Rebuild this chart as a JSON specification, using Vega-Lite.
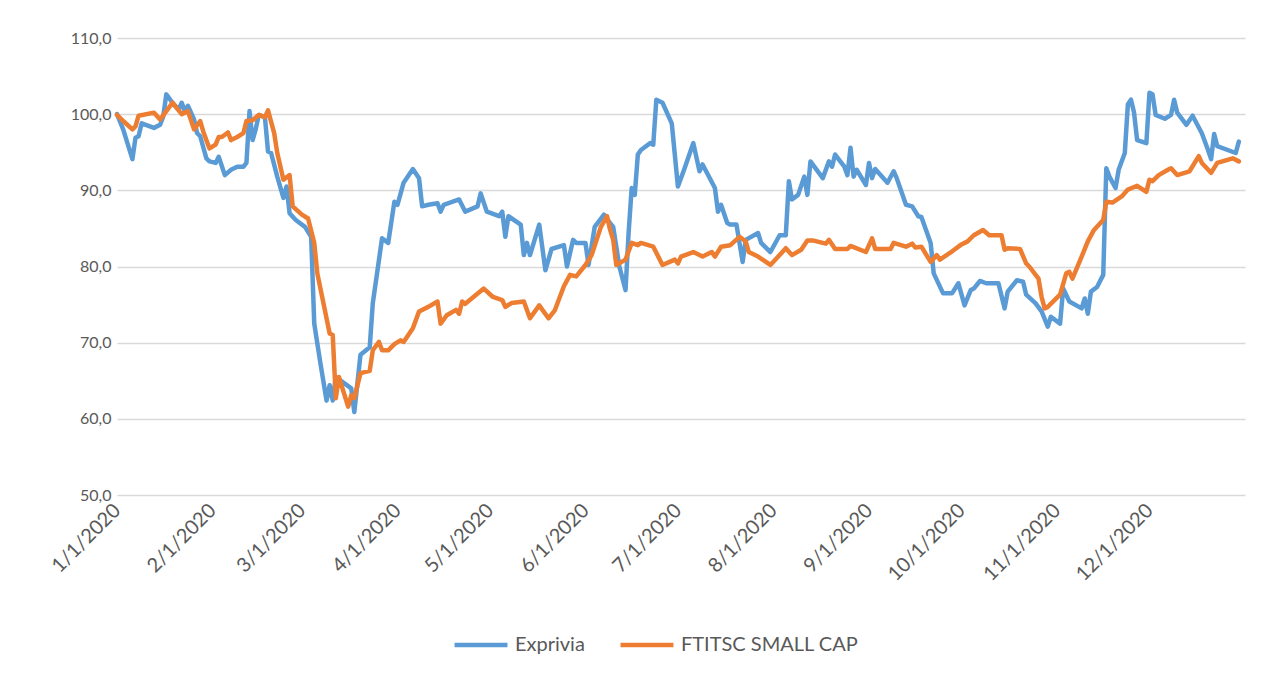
{
  "$schema": "https://vega.github.io/schema/vega-lite/v6.json",
  "width": 1128,
  "height": 457,
  "autosize": {"type": "none"},
  "padding": {"left": 117, "top": 38, "right": 36, "bottom": 181},
  "background": "white",
  "config": {"view": {"stroke": null}, "font": "Lato"},
  "datasets": {
    "exprivia": [
      {"date":"2020-01-01","value":100.0},{"date":"2020-01-03","value":98.0},{"date":"2020-01-06","value":94.1},{"date":"2020-01-07","value":96.9},{"date":"2020-01-08","value":97.1},{"date":"2020-01-09","value":98.8},{"date":"2020-01-13","value":98.2},{"date":"2020-01-15","value":98.6},{"date":"2020-01-16","value":99.7},{"date":"2020-01-17","value":102.6},{"date":"2020-01-19","value":101.5},{"date":"2020-01-21","value":100.6},{"date":"2020-01-22","value":101.5},{"date":"2020-01-23","value":100.4},{"date":"2020-01-24","value":101.1},{"date":"2020-01-26","value":99.3},{"date":"2020-01-27","value":97.5},{"date":"2020-01-28","value":97.1},{"date":"2020-01-30","value":94.2},{"date":"2020-01-31","value":93.8},
      {"date":"2020-02-02","value":93.6},{"date":"2020-02-03","value":94.4},{"date":"2020-02-05","value":92.0},{"date":"2020-02-07","value":92.7},{"date":"2020-02-09","value":93.1},{"date":"2020-02-11","value":93.1},{"date":"2020-02-12","value":93.6},{"date":"2020-02-13","value":100.4},{"date":"2020-02-14","value":96.6},{"date":"2020-02-15","value":98.0},{"date":"2020-02-16","value":99.9},{"date":"2020-02-18","value":99.6},{"date":"2020-02-19","value":95.1},{"date":"2020-02-20","value":94.9},{"date":"2020-02-22","value":91.8},{"date":"2020-02-24","value":89.0},{"date":"2020-02-25","value":90.5},{"date":"2020-02-26","value":87.0},{"date":"2020-02-28","value":86.1},
      {"date":"2020-03-02","value":85.2},{"date":"2020-03-04","value":83.9},{"date":"2020-03-05","value":72.5},{"date":"2020-03-07","value":67.3},{"date":"2020-03-09","value":62.4},{"date":"2020-03-10","value":64.4},{"date":"2020-03-11","value":62.4},{"date":"2020-03-12","value":65.5},{"date":"2020-03-17","value":64.0},{"date":"2020-03-18","value":60.9},{"date":"2020-03-20","value":68.4},{"date":"2020-03-23","value":69.4},{"date":"2020-03-24","value":75.2},{"date":"2020-03-27","value":83.7},{"date":"2020-03-29","value":83.1},{"date":"2020-03-31","value":88.5},
      {"date":"2020-04-01","value":88.1},{"date":"2020-04-03","value":91.0},{"date":"2020-04-06","value":92.8},{"date":"2020-04-08","value":91.6},{"date":"2020-04-09","value":87.9},{"date":"2020-04-11","value":88.1},{"date":"2020-04-14","value":88.3},{"date":"2020-04-15","value":87.2},{"date":"2020-04-16","value":88.1},{"date":"2020-04-21","value":88.8},{"date":"2020-04-23","value":87.2},{"date":"2020-04-27","value":87.9},{"date":"2020-04-28","value":89.6},{"date":"2020-04-30","value":87.2},
      {"date":"2020-05-04","value":86.6},{"date":"2020-05-05","value":87.2},{"date":"2020-05-06","value":83.9},{"date":"2020-05-07","value":86.6},{"date":"2020-05-11","value":85.5},{"date":"2020-05-12","value":81.5},{"date":"2020-05-13","value":83.1},{"date":"2020-05-14","value":81.5},{"date":"2020-05-17","value":85.5},{"date":"2020-05-19","value":79.5},{"date":"2020-05-21","value":82.3},{"date":"2020-05-25","value":82.8},{"date":"2020-05-26","value":80.0},{"date":"2020-05-28","value":83.5},{"date":"2020-05-29","value":83.1},
      {"date":"2020-06-01","value":83.1},{"date":"2020-06-02","value":80.2},{"date":"2020-06-04","value":85.2},{"date":"2020-06-07","value":86.8},{"date":"2020-06-09","value":85.7},{"date":"2020-06-10","value":85.2},{"date":"2020-06-12","value":80.0},{"date":"2020-06-14","value":76.9},{"date":"2020-06-15","value":84.4},{"date":"2020-06-16","value":90.3},{"date":"2020-06-17","value":89.4},{"date":"2020-06-18","value":94.7},{"date":"2020-06-19","value":95.3},{"date":"2020-06-22","value":96.2},{"date":"2020-06-23","value":96.0},{"date":"2020-06-24","value":101.9},{"date":"2020-06-26","value":101.5},{"date":"2020-06-29","value":98.8},
      {"date":"2020-07-01","value":90.5},{"date":"2020-07-03","value":92.7},{"date":"2020-07-06","value":96.2},{"date":"2020-07-08","value":92.5},{"date":"2020-07-09","value":93.4},{"date":"2020-07-13","value":90.3},{"date":"2020-07-14","value":87.2},{"date":"2020-07-15","value":88.1},{"date":"2020-07-17","value":85.7},{"date":"2020-07-18","value":85.5},{"date":"2020-07-20","value":85.5},{"date":"2020-07-22","value":80.6},{"date":"2020-07-23","value":83.5},{"date":"2020-07-27","value":84.4},{"date":"2020-07-28","value":83.1},{"date":"2020-07-31","value":81.9},
      {"date":"2020-08-03","value":84.1},{"date":"2020-08-05","value":84.1},{"date":"2020-08-06","value":91.2},{"date":"2020-08-07","value":88.8},{"date":"2020-08-09","value":89.4},{"date":"2020-08-11","value":91.8},{"date":"2020-08-12","value":89.4},{"date":"2020-08-13","value":93.8},{"date":"2020-08-17","value":91.6},{"date":"2020-08-19","value":93.8},{"date":"2020-08-20","value":93.1},{"date":"2020-08-21","value":94.7},{"date":"2020-08-24","value":93.1},{"date":"2020-08-25","value":92.0},{"date":"2020-08-26","value":95.6},{"date":"2020-08-27","value":91.8},{"date":"2020-08-28","value":92.7},{"date":"2020-08-31","value":90.7},
      {"date":"2020-09-01","value":93.6},{"date":"2020-09-02","value":91.6},{"date":"2020-09-03","value":92.8},{"date":"2020-09-07","value":91.0},{"date":"2020-09-09","value":92.5},{"date":"2020-09-10","value":91.6},{"date":"2020-09-13","value":88.1},{"date":"2020-09-15","value":87.9},{"date":"2020-09-17","value":86.6},{"date":"2020-09-18","value":86.5},{"date":"2020-09-21","value":83.1},{"date":"2020-09-22","value":79.1},{"date":"2020-09-25","value":76.5},{"date":"2020-09-28","value":76.5},{"date":"2020-09-30","value":77.8},
      {"date":"2020-10-02","value":74.9},{"date":"2020-10-04","value":76.9},{"date":"2020-10-05","value":77.1},{"date":"2020-10-07","value":78.1},{"date":"2020-10-09","value":77.8},{"date":"2020-10-13","value":77.8},{"date":"2020-10-15","value":74.5},{"date":"2020-10-16","value":76.7},{"date":"2020-10-19","value":78.2},{"date":"2020-10-21","value":78.0},{"date":"2020-10-22","value":76.3},{"date":"2020-10-25","value":75.2},{"date":"2020-10-27","value":74.1},{"date":"2020-10-29","value":72.1},{"date":"2020-10-30","value":73.4},
      {"date":"2020-11-02","value":72.5},{"date":"2020-11-03","value":77.1},{"date":"2020-11-05","value":75.4},{"date":"2020-11-09","value":74.5},{"date":"2020-11-10","value":75.8},{"date":"2020-11-11","value":73.8},{"date":"2020-11-12","value":76.7},{"date":"2020-11-14","value":77.3},{"date":"2020-11-16","value":78.9},{"date":"2020-11-17","value":92.9},{"date":"2020-11-18","value":91.8},{"date":"2020-11-20","value":90.3},{"date":"2020-11-21","value":92.7},{"date":"2020-11-23","value":94.9},{"date":"2020-11-24","value":101.3},{"date":"2020-11-25","value":101.9},{"date":"2020-11-26","value":100.2},{"date":"2020-11-27","value":96.6},{"date":"2020-11-30","value":96.2},
      {"date":"2020-12-01","value":102.8},{"date":"2020-12-02","value":102.6},{"date":"2020-12-03","value":99.9},{"date":"2020-12-06","value":99.4},{"date":"2020-12-08","value":99.9},{"date":"2020-12-09","value":101.9},{"date":"2020-12-10","value":100.2},{"date":"2020-12-13","value":98.6},{"date":"2020-12-15","value":99.8},{"date":"2020-12-18","value":97.5},{"date":"2020-12-20","value":95.3},{"date":"2020-12-21","value":94.1},{"date":"2020-12-22","value":97.4},{"date":"2020-12-23","value":95.8},{"date":"2020-12-29","value":94.9},{"date":"2020-12-30","value":96.4}
    ],
    "ftitsc": [
      {"date":"2020-01-01","value":99.9},{"date":"2020-01-03","value":99.1},{"date":"2020-01-06","value":98.0},{"date":"2020-01-07","value":98.4},{"date":"2020-01-08","value":99.8},{"date":"2020-01-13","value":100.2},{"date":"2020-01-15","value":99.3},{"date":"2020-01-17","value":100.4},{"date":"2020-01-19","value":101.5},{"date":"2020-01-22","value":100.0},{"date":"2020-01-24","value":100.4},{"date":"2020-01-26","value":98.0},{"date":"2020-01-28","value":99.1},{"date":"2020-01-29","value":97.7},{"date":"2020-01-31","value":95.5},
      {"date":"2020-02-02","value":96.0},{"date":"2020-02-03","value":97.0},{"date":"2020-02-04","value":97.0},{"date":"2020-02-06","value":97.6},{"date":"2020-02-07","value":96.6},{"date":"2020-02-09","value":97.0},{"date":"2020-02-11","value":97.5},{"date":"2020-02-12","value":99.1},{"date":"2020-02-14","value":99.2},{"date":"2020-02-16","value":99.9},{"date":"2020-02-18","value":99.6},{"date":"2020-02-19","value":100.5},{"date":"2020-02-21","value":97.5},{"date":"2020-02-22","value":94.9},{"date":"2020-02-24","value":91.4},{"date":"2020-02-26","value":92.0},{"date":"2020-02-27","value":87.9},
      {"date":"2020-03-01","value":86.8},{"date":"2020-03-03","value":86.3},{"date":"2020-03-05","value":83.1},{"date":"2020-03-06","value":79.1},{"date":"2020-03-10","value":71.2},{"date":"2020-03-11","value":71.0},{"date":"2020-03-12","value":62.7},{"date":"2020-03-13","value":65.5},{"date":"2020-03-16","value":61.6},{"date":"2020-03-17","value":63.1},{"date":"2020-03-18","value":62.7},{"date":"2020-03-20","value":66.0},{"date":"2020-03-23","value":66.3},{"date":"2020-03-24","value":69.0},{"date":"2020-03-26","value":70.1},{"date":"2020-03-27","value":69.0},{"date":"2020-03-29","value":69.0},{"date":"2020-03-31","value":69.8},
      {"date":"2020-04-02","value":70.3},{"date":"2020-04-03","value":70.1},{"date":"2020-04-06","value":71.9},{"date":"2020-04-08","value":74.1},{"date":"2020-04-11","value":74.7},{"date":"2020-04-14","value":75.4},{"date":"2020-04-15","value":72.5},{"date":"2020-04-17","value":73.6},{"date":"2020-04-20","value":74.3},{"date":"2020-04-21","value":73.8},{"date":"2020-04-22","value":75.4},{"date":"2020-04-23","value":75.1},{"date":"2020-04-29","value":77.1},
      {"date":"2020-05-02","value":76.0},{"date":"2020-05-05","value":75.6},{"date":"2020-05-06","value":74.7},{"date":"2020-05-08","value":75.2},{"date":"2020-05-12","value":75.4},{"date":"2020-05-14","value":73.2},{"date":"2020-05-17","value":74.9},{"date":"2020-05-20","value":73.2},{"date":"2020-05-22","value":74.2},{"date":"2020-05-25","value":77.4},{"date":"2020-05-27","value":78.9},{"date":"2020-05-29","value":78.7},
      {"date":"2020-06-01","value":80.2},{"date":"2020-06-03","value":81.5},{"date":"2020-06-06","value":85.2},{"date":"2020-06-08","value":86.6},{"date":"2020-06-09","value":84.8},{"date":"2020-06-10","value":83.5},{"date":"2020-06-11","value":80.2},{"date":"2020-06-14","value":80.9},{"date":"2020-06-16","value":83.1},{"date":"2020-06-18","value":82.8},{"date":"2020-06-19","value":83.1},{"date":"2020-06-23","value":82.6},{"date":"2020-06-26","value":80.2},{"date":"2020-06-30","value":80.9},
      {"date":"2020-07-01","value":80.4},{"date":"2020-07-02","value":81.3},{"date":"2020-07-06","value":81.9},{"date":"2020-07-09","value":81.3},{"date":"2020-07-12","value":81.9},{"date":"2020-07-13","value":81.3},{"date":"2020-07-15","value":82.6},{"date":"2020-07-18","value":82.8},{"date":"2020-07-21","value":83.9},{"date":"2020-07-23","value":83.3},{"date":"2020-07-24","value":81.9},{"date":"2020-07-27","value":81.3},{"date":"2020-07-31","value":80.2},
      {"date":"2020-08-03","value":81.5},{"date":"2020-08-05","value":82.4},{"date":"2020-08-07","value":81.5},{"date":"2020-08-10","value":82.2},{"date":"2020-08-12","value":83.4},{"date":"2020-08-14","value":83.4},{"date":"2020-08-18","value":83.0},{"date":"2020-08-19","value":83.5},{"date":"2020-08-21","value":82.3},{"date":"2020-08-25","value":82.3},{"date":"2020-08-26","value":82.7},{"date":"2020-08-31","value":81.9},
      {"date":"2020-09-02","value":83.7},{"date":"2020-09-03","value":82.3},{"date":"2020-09-08","value":82.3},{"date":"2020-09-09","value":83.1},{"date":"2020-09-13","value":82.6},{"date":"2020-09-15","value":83.0},{"date":"2020-09-16","value":82.5},{"date":"2020-09-18","value":82.6},{"date":"2020-09-21","value":80.6},{"date":"2020-09-23","value":81.5},{"date":"2020-09-24","value":80.9},{"date":"2020-09-28","value":82.0},
      {"date":"2020-10-01","value":82.9},{"date":"2020-10-03","value":83.3},{"date":"2020-10-05","value":84.1},{"date":"2020-10-08","value":84.8},{"date":"2020-10-10","value":84.1},{"date":"2020-10-14","value":84.1},{"date":"2020-10-15","value":82.2},{"date":"2020-10-16","value":82.4},{"date":"2020-10-20","value":82.3},{"date":"2020-10-22","value":80.4},{"date":"2020-10-23","value":80.0},{"date":"2020-10-26","value":78.4},{"date":"2020-10-27","value":76.0},{"date":"2020-10-28","value":74.5},{"date":"2020-10-29","value":74.7},
      {"date":"2020-11-02","value":76.3},{"date":"2020-11-04","value":79.1},{"date":"2020-11-05","value":79.3},{"date":"2020-11-06","value":78.4},{"date":"2020-11-09","value":81.3},{"date":"2020-11-11","value":83.3},{"date":"2020-11-13","value":84.8},{"date":"2020-11-16","value":86.1},{"date":"2020-11-17","value":88.5},{"date":"2020-11-19","value":88.4},{"date":"2020-11-22","value":89.2},{"date":"2020-11-24","value":90.1},{"date":"2020-11-27","value":90.6},{"date":"2020-11-30","value":89.8},
      {"date":"2020-12-01","value":91.4},{"date":"2020-12-02","value":91.2},{"date":"2020-12-04","value":92.0},{"date":"2020-12-07","value":92.7},{"date":"2020-12-08","value":92.9},{"date":"2020-12-10","value":92.0},{"date":"2020-12-14","value":92.5},{"date":"2020-12-17","value":94.5},{"date":"2020-12-18","value":93.6},{"date":"2020-12-21","value":92.3},{"date":"2020-12-23","value":93.6},{"date":"2020-12-28","value":94.2},{"date":"2020-12-30","value":93.8}
    ]
  },
  "encoding": {
    "x": {
      "field": "date", "type": "temporal",
      "scale": {"domain": [{"year": 2020, "month": 1, "date": 1}, {"year": 2021, "month": 1, "date": 1}]},
      "axis": {
        "title": null, "grid": false, "domain": false, "ticks": false,
        "format": "%-m/%-d/%Y", "labelAngle": -45, "labelAlign": "right", "labelBaseline": "middle",
        "labelPadding": 12, "labelFontSize": 20, "labelColor": "#595959", "labelOverlap": false, "labelBound": false, "labelFlush": false,
        "values": [
          {"year": 2020, "month": 1, "date": 1}, {"year": 2020, "month": 2, "date": 1}, {"year": 2020, "month": 3, "date": 1},
          {"year": 2020, "month": 4, "date": 1}, {"year": 2020, "month": 5, "date": 1}, {"year": 2020, "month": 6, "date": 1},
          {"year": 2020, "month": 7, "date": 1}, {"year": 2020, "month": 8, "date": 1}, {"year": 2020, "month": 9, "date": 1},
          {"year": 2020, "month": 10, "date": 1}, {"year": 2020, "month": 11, "date": 1}, {"year": 2020, "month": 12, "date": 1}
        ]
      }
    },
    "y": {
      "field": "value", "type": "quantitative",
      "scale": {"domain": [50, 110], "nice": false, "zero": false},
      "axis": {
        "title": null, "values": [50, 60, 70, 80, 90, 100, 110], "domain": false, "ticks": false,
        "gridColor": "#d9d9d9", "gridWidth": 1.5,
        "labelExpr": "replace(format(datum.value, '.1f'), '.', ',')",
        "labelFontSize": 16, "labelColor": "#595959", "labelPadding": 6
      }
    }
  },
  "layer": [
    {
      "data": {"name": "exprivia", "format": {"parse": {"date": "date:'%Y-%m-%d'"}}},
      "mark": {"type": "line", "strokeWidth": 4.5, "strokeJoin": "round", "strokeCap": "round"},
      "encoding": {
        "color": {
          "datum": "Exprivia", "type": "nominal",
          "scale": {"domain": ["Exprivia", "FTITSC SMALL CAP"], "range": ["#5B9BD5", "#ED7D31"]},
          "legend": {
            "title": null, "orient": "none", "legendX": 335, "legendY": 578, "direction": "horizontal",
            "symbolType": "stroke", "symbolStrokeWidth": 4.5, "symbolSize": 2800,
            "labelFontSize": 20, "labelColor": "#595959", "labelLimit": 400, "columnPadding": 26, "labelOffset": 5
          }
        }
      }
    },
    {
      "data": {"name": "ftitsc", "format": {"parse": {"date": "date:'%Y-%m-%d'"}}},
      "mark": {"type": "line", "strokeWidth": 4.5, "strokeJoin": "round", "strokeCap": "round"},
      "encoding": {"color": {"datum": "FTITSC SMALL CAP", "type": "nominal"}}
    }
  ]
}
